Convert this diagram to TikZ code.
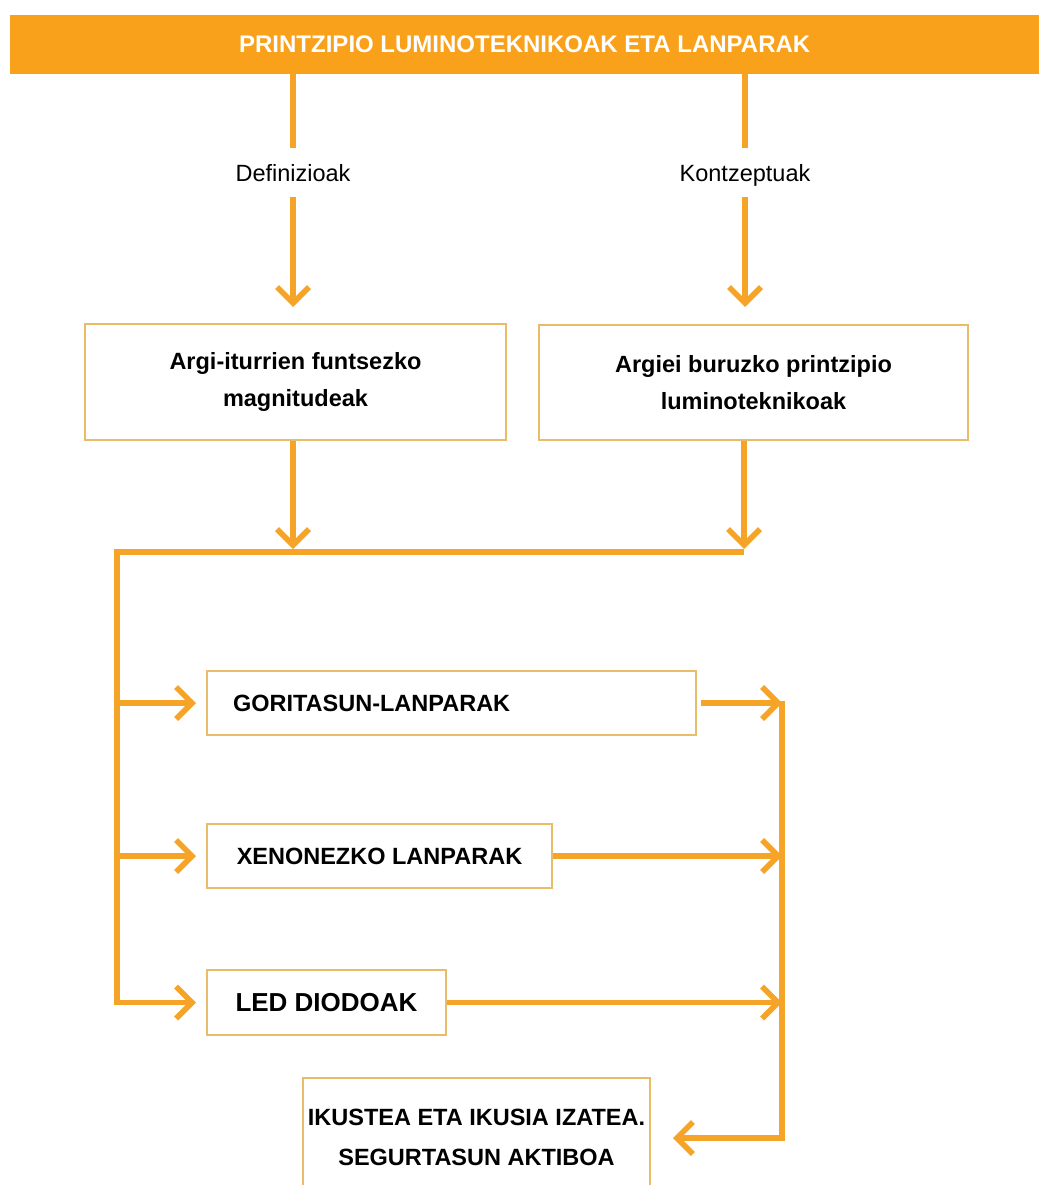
\documentclass[tikz,border=0pt]{standalone}
\usepackage{fontspec}
\setmainfont{Liberation Sans}
\usetikzlibrary{arrows.meta}
\definecolor{barorange}{RGB}{249,161,27}
\definecolor{lineorange}{RGB}{245,164,40}
\definecolor{boxedge}{RGB}{232,188,105}
\begin{document}
\begin{tikzpicture}[x=1pt,y=-1pt,
  conn/.style={draw=lineorange, line width=5.5pt},
  arr/.style={conn, -{Straight Barb[length=16pt,width=32pt]}},
  box/.style={draw=boxedge, line width=2pt, inner sep=0pt, align=center,
    font=\bfseries\fontsize{23.5}{37}\selectfont},
  lbl/.style={inner sep=0pt, text height=20pt, text depth=2pt, minimum height=49pt,
    font=\fontsize{23.5}{28}\selectfont}]
\useasboundingbox (0,0) rectangle (1039,1185);
\fill[white] (0,0) rectangle (1039,1185);
\clip (0,0) rectangle (1039,1185);
% title bar
\node[fill=barorange, minimum width=1029pt, minimum height=59pt, inner sep=0pt,
  text=white, font=\bfseries\fontsize{24}{28}\selectfont, anchor=west] (title) at (10,44.5)
  {PRINTZIPIO LUMINOTEKNIKOAK ETA LANPARAK};
% labels
\node[lbl] (def) at (293,172.5) {Definizioak};
\node[lbl] (kon) at (745,172.5) {Kontzeptuak};
% boxes
\node[box, minimum width=421pt, minimum height=116pt] (b1) at (295.5,382)
  {Argi-iturrien funtsezko\\magnitudeak};
\node[box, minimum width=429pt, minimum height=115pt] (b2) at (753.5,382.5)
  {Argiei buruzko printzipio\\luminoteknikoak};
\node[box, minimum width=489pt, minimum height=64pt, inner xsep=26pt, text width=437pt, align=left] (gor) at (451.5,703)
  {GORITASUN-LANPARAK};
\node[box, minimum width=345pt, minimum height=64pt] (xen) at (379.5,856)
  {XENONEZKO LANPARAK};
\node[box, minimum width=239pt, minimum height=65pt, font=\bfseries\fontsize{26}{30}\selectfont] (led) at (326.5,1002.5)
  {LED DIODOAK};
\node[box, minimum width=347pt, minimum height=118pt, font=\bfseries\fontsize{23.5}{40}\selectfont] (iku) at (476.5,1137)
  {IKUSTEA ETA IKUSIA IZATEA.\\SEGURTASUN AKTIBOA};
% helper coordinates
\coordinate (d1) at (293,307);
\coordinate (k1) at (745,307);
\coordinate (d2) at (293,549);
\coordinate (k2) at (744,549);
\coordinate (busL) at (117,552);
\coordinate (busR) at (744,552);
\coordinate (busB) at (117,1005);
\coordinate (rT) at (782,700.5);
\coordinate (rB) at (782,1138);
\coordinate (ikuTip) at (673,1138);
% connectors
\draw[conn] (title.south -| def) -- (def.north);
\draw[arr] (def.south) -- (d1);
\draw[conn] (title.south -| kon) -- (kon.north);
\draw[arr] (kon.south) -- (k1);
\draw[arr] (b1.south -| def) -- (d2);
\draw[arr] (b2.south -| k2) -- (k2);
\draw[conn] (busR) -- (busL) -- (busB);
\draw[arr] (gor.west -| busL) -- ([xshift=-10pt]gor.west);
\draw[arr] (xen.west -| busL) -- ([xshift=-10pt]xen.west);
\draw[arr] (led.west -| busL) -- ([xshift=-10pt]led.west);
\draw[arr] ([xshift=4pt]gor.east) -- (gor.east -| rT);
\draw[arr] (xen.east) -- (xen.east -| rT);
\draw[arr] (led.east) -- (led.east -| rT);
\draw[arr] (rT) -- (rB) -- (ikuTip);
\end{tikzpicture}
\end{document}
